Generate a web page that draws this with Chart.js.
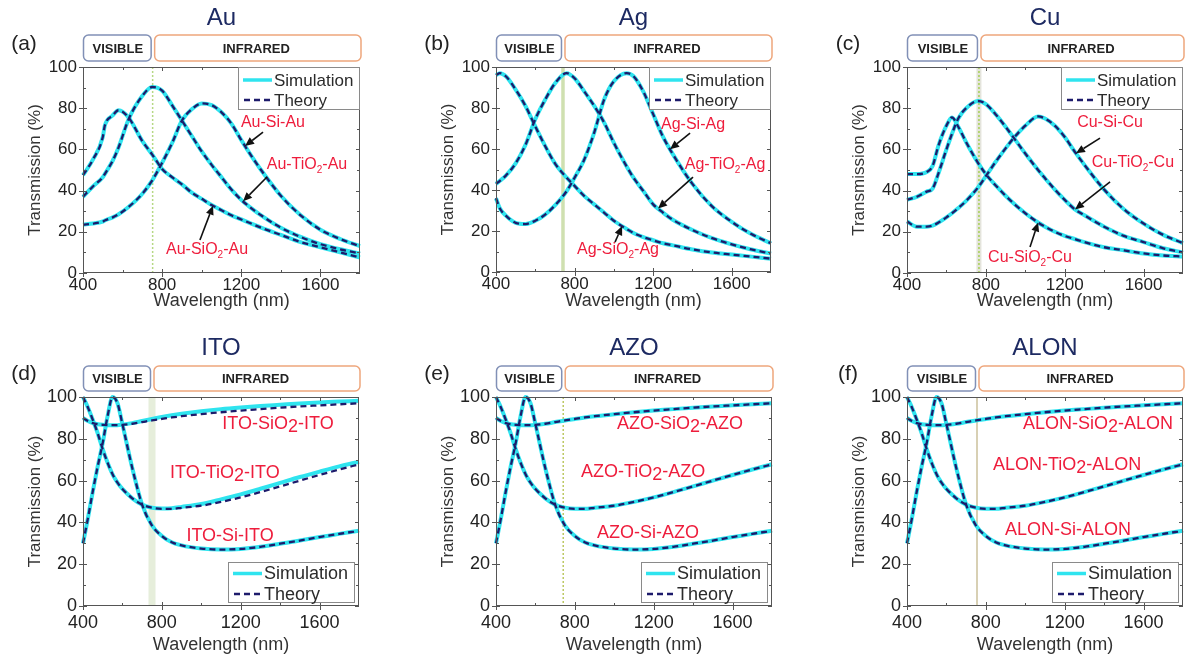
<!DOCTYPE html>
<html>
<head>
<meta charset="utf-8">
<script src="https://cdn.jsdelivr.net/npm/chart.js@4.4.1/dist/chart.umd.min.js"></script>
<style>
  body { margin: 0; background: #fff; }
  #fig { position: relative; width: 1191px; height: 659px; overflow: hidden; background: #fff; }
  #fig canvas { position: absolute; }
</style>
</head>
<body>
<div id="fig"></div>
<script>
// wavelength grids (nm)
const auWl = [400, 450, 500, 510, 550, 580, 630, 700, 750, 800, 850, 900, 950, 1000, 1050, 1100, 1150, 1200, 1250, 1300, 1400, 1500, 1600, 1700, 1800];
const agWl = [400, 420, 450, 500, 550, 600, 650, 700, 760, 800, 850, 900, 950, 1000, 1065, 1100, 1150, 1200, 1250, 1300, 1400, 1500, 1600, 1700, 1800];
const cuWl = [400, 450, 500, 530, 560, 600, 628, 660, 700, 760, 800, 850, 900, 950, 1000, 1065, 1100, 1150, 1200, 1250, 1300, 1400, 1500, 1600, 1700, 1800];
const tcoWl = [400, 425, 450, 475, 500, 525, 550, 575, 600, 650, 700, 750, 800, 850, 900, 1000, 1100, 1200, 1300, 1400, 1500, 1600, 1700, 1800];

// transmission (%) - metal electrodes
const auSiO2 = [47.5, 55, 66, 71.5, 76.5, 79, 75.5, 64, 57.5, 50.5, 46.5, 43, 39, 36, 33, 30.5, 28, 26, 24, 22, 18.5, 15, 12.5, 10, 7.5];
const auTiO2 = [37, 42, 46.5, 48, 54.5, 61, 74.5, 86, 90.3, 88.5, 81.5, 74, 66.5, 59, 52.5, 46.5, 40.5, 35.5, 31.5, 28, 22, 17.5, 14, 11.5, 9.5];
const auSi = [23.5, 24, 25, 25.5, 27, 28.5, 32, 38.5, 45, 53.5, 63, 74, 79.5, 82.3, 81.5, 78, 72.5, 64.5, 57, 50, 37.5, 28, 21, 16.5, 13];

const agSiO2 = [96, 97, 95.5, 89, 81, 71, 61.5, 53, 46, 42, 37, 33, 29, 25, 21, 19, 17, 15.5, 14, 13, 11, 9.5, 8.5, 7.5, 6.5];
const agTiO2 = [43, 44.5, 47, 53, 62, 74.5, 84, 92, 97, 94.5, 88, 81, 73, 63, 51.5, 46, 39.5, 33, 29, 25.5, 20.5, 16.5, 13.5, 11, 9];
const agSi = [36, 31, 27.5, 24, 23.4, 25, 28, 32.5, 39.5, 46, 55, 68, 84, 93, 97, 95.5, 88, 77, 66, 57.5, 43, 32, 24.5, 18.5, 14];

const cuSiO2 = [48, 48, 49, 52, 62, 71.5, 75.5, 71, 63.5, 53.5, 48, 42.5, 37.5, 33, 29, 24.5, 22.5, 20, 18, 16.5, 15, 12.5, 11, 9.5, 8.5, 8];
const cuTiO2 = [35.5, 37, 39.5, 41, 48.5, 60, 67.5, 75, 80, 83.5, 82, 77, 71, 64.5, 58, 50, 46, 40.5, 35.5, 31, 28, 22.5, 18, 15, 12, 10];
const cuSi = [25, 22.5, 22.5, 23, 24.5, 27, 29, 31.5, 35, 41.5, 47, 54, 60.5, 66.5, 71.5, 76, 75, 71.5, 66, 59, 52.5, 40.5, 31, 24, 18.5, 14.5];

// transmission (%) - transparent conducting oxide electrodes
const tcoSiO2 = [90, 88.5, 87.5, 87, 86.7, 86.5, 86.5, 86.5, 86.7, 87.2, 88, 88.8, 89.5, 90.2, 90.8, 91.8, 92.7, 93.5, 94.2, 94.9, 95.5, 96, 96.5, 97];
const tcoTiO2 = [100, 95, 89, 82.5, 75, 68.5, 63, 59, 56, 51.5, 48.5, 47, 46.5, 46.5, 47, 48, 49.8, 52, 54.5, 57.2, 60, 62.7, 65.3, 67.8];
const tcoSi = [30, 42, 55, 67, 78, 91, 100, 97, 87, 66, 48.5, 38.5, 33.5, 30.5, 29, 27.5, 27, 27.3, 28.3, 29.8, 31.3, 33, 34.5, 36];
// ITO simulation drifts a little above theory in the infrared
const itoSiO2Sim = [90, 88.5, 87.5, 87, 86.7, 86.5, 86.5, 86.5, 86.8, 87.5, 88.5, 89.5, 90.5, 91.3, 92, 93.2, 94.2, 95, 95.7, 96.3, 96.9, 97.4, 97.8, 98.2];
const itoTiO2Sim = [100, 95, 89, 82.5, 75, 68.5, 63, 59, 56, 51.5, 48.5, 47, 46.7, 46.8, 47.4, 48.8, 51, 53.4, 56.1, 58.9, 61.7, 64.3, 66.8, 69];

const xMajor = [400, 800, 1200, 1600];
const xMinor = [600, 1000, 1400];
const yMajor = [0, 20, 40, 60, 80, 100];
const yMinor = [10, 30, 50, 70, 90];

const CYAN = '#2fe4ef';
const NAVY = '#1d1b6b';
const RED = '#ee1d3c';
const FONT = '"Liberation Sans", Arial, sans-serif';

const rows = {
  top: { rowTop: 0, canvasH: 320, tickSize: 17, tickPad: 2, titlePad: 8, bandTop: 32, bandH: 26, labelSize: 16, subScale: 0.62, subDrop: 5, legendSize: 17 },
  bottom: { rowTop: 330, canvasH: 329, tickSize: 18, tickPad: 6, titlePad: 3, bandTop: 31, bandH: 25, labelSize: 18, subScale: 1, subDrop: 3, legendSize: 18 }
};

const dotted = (c) => [{ color: c, width: 1.5, dash: [2, 2] }];

const panels = [
  { id: 'a', row: 'top', title: 'Au', box: [83, 67, 360, 273], wl: auWl,
    sim: [auSiO2, auTiO2, auSi], theory: [auSiO2, auTiO2, auSi],
    edge: 752, edgeStrokes: dotted('#b6d884'),
    labels: [['Au-Si-Au', 1360, 72.8], ['Au-TiO_2-Au', 1532, 52.4], ['Au-SiO_2-Au', 1027, 11.2]],
    arrows: [[1310, 68.4, 2, 1219], [1330, 46.6, 1, 1209], [991, 16, 0, 1057]] },
  { id: 'b', row: 'top', title: 'Ag', box: [496, 67, 771, 272], wl: agWl,
    sim: [agSiO2, agTiO2, agSi], theory: [agSiO2, agTiO2, agSi],
    edge: 741, edgeStrokes: [{ color: '#cfe0b0', width: 3.5 }],
    labels: [['Ag-Si-Ag', 1403, 71.7], ['Ag-TiO_2-Ag', 1566, 52.2], ['Ag-SiO_2-Ag', 1021, 10.7]],
    arrows: [[1388, 67.8, 2, 1286], [1403, 46.3, 1, 1225], [1006, 14.6, 0, 1042]] },
  { id: 'c', row: 'top', title: 'Cu', box: [907, 67, 1183, 273], wl: cuWl,
    sim: [cuSiO2, cuTiO2, cuSi], theory: [cuSiO2, cuTiO2, cuSi],
    edge: 765, edgeStrokes: [{ color: '#e4e4dc', width: 5 }].concat(dotted('#a6cf55')),
    labels: [['Cu-Si-Cu', 1430, 72.8], ['Cu-TiO_2-Cu', 1546, 53.4], ['Cu-SiO_2-Cu', 1024, 7.3]],
    arrows: [[1379, 65.5, 2, 1257], [1430, 44.2, 1, 1252], [1024, 12.6, 0, 1065]] },
  { id: 'd', row: 'bottom', title: 'ITO', box: [83, 397, 359, 606], wl: tcoWl,
    sim: [itoSiO2Sim, itoTiO2Sim, tcoSi], theory: [tcoSiO2, tcoTiO2, tcoSi],
    edge: 750, edgeStrokes: [{ color: '#e6eedb', width: 7 }],
    labels: [['ITO-SiO_2-ITO', 1389, 87.1], ['ITO-TiO_2-ITO', 1120, 63.6], ['ITO-Si-ITO', 1146, 33.5]],
    arrows: [] },
  { id: 'e', row: 'bottom', title: 'AZO', box: [496, 397, 772, 606], wl: tcoWl,
    sim: [tcoSiO2, tcoTiO2, tcoSi], theory: [tcoSiO2, tcoTiO2, tcoSi],
    edge: 741, edgeStrokes: dotted('#bcc862'),
    labels: [['AZO-SiO_2-AZO', 1333, 87.1], ['AZO-TiO_2-AZO', 1146, 64.1], ['AZO-Si-AZO', 1171, 34.9]],
    arrows: [] },
  { id: 'f', row: 'bottom', title: 'ALON', box: [907, 397, 1183, 606], wl: tcoWl,
    sim: [tcoSiO2, tcoTiO2, tcoSi], theory: [tcoSiO2, tcoTiO2, tcoSi],
    edge: 755, edgeStrokes: [{ color: '#d8d0b4', width: 2 }],
    labels: [['ALON-SiO_2-ALON', 1369, 87.1], ['ALON-TiO_2-ALON', 1212, 67.5], ['ALON-Si-ALON', 1217, 36.4]],
    arrows: [] }
];
const panelById = {};
panels.forEach(p => { panelById['panel-' + p.id] = p; });

function interp(wl, vals, x) {
  for (let i = 1; i < wl.length; i++) {
    if (x <= wl[i]) {
      const t = (x - wl[i - 1]) / (wl[i] - wl[i - 1]);
      return vals[i - 1] + t * (vals[i] - vals[i - 1]);
    }
  }
  return vals[vals.length - 1];
}

function pts(wl, vals) {
  return wl.map((x, i) => ({ x: x, y: vals[i] }));
}

// text such as 'Au-TiO_2-Au': the digit after '_' is set lower (and smaller in the top row)
function drawChem(ctx, text, cx, cy, size, subScale, subDrop) {
  const parts = text.split(/_(\d)/);
  const big = size + 'px ' + FONT;
  const small = Math.round(size * subScale) + 'px ' + FONT;
  let w = 0;
  parts.forEach((s, i) => { ctx.font = i % 2 ? small : big; w += ctx.measureText(s).width; });
  let x = cx - w / 2;
  ctx.textAlign = 'left';
  ctx.textBaseline = 'middle';
  parts.forEach((s, i) => {
    ctx.font = i % 2 ? small : big;
    ctx.fillText(s, x, cy + (i % 2 ? subDrop : 0));
    x += ctx.measureText(s).width;
  });
}

function arrowTo(ctx, x0, y0, x1, y1) {
  const ang = Math.atan2(y1 - y0, x1 - x0);
  const L = 9, W = 4;
  const bx = x1 - L * Math.cos(ang), by = y1 - L * Math.sin(ang);
  ctx.beginPath(); ctx.moveTo(x0, y0); ctx.lineTo(bx, by); ctx.stroke();
  ctx.beginPath();
  ctx.moveTo(x1, y1);
  ctx.lineTo(bx + W * Math.sin(ang), by - W * Math.cos(ang));
  ctx.lineTo(bx - W * Math.sin(ang), by + W * Math.cos(ang));
  ctx.closePath(); ctx.fill();
}

function roundBox(ctx, x, y, w, h, r, stroke) {
  ctx.beginPath();
  ctx.roundRect(x, y, w, h, r);
  ctx.fillStyle = '#fff';
  ctx.fill();
  ctx.strokeStyle = stroke;
  ctx.lineWidth = 1.5;
  ctx.stroke();
}

const figurePlugin = {
  id: 'figure',
  beforeDatasetsDraw(chart) {
    const p = panelById[chart.canvas.id];
    const { ctx, chartArea: a, scales: { x } } = chart;
    const px = x.getPixelForValue(p.edge);
    ctx.save();
    p.edgeStrokes.forEach(s => {
      ctx.strokeStyle = s.color;
      ctx.lineWidth = s.width;
      ctx.setLineDash(s.dash || []);
      ctx.beginPath(); ctx.moveTo(px, a.top); ctx.lineTo(px, a.bottom); ctx.stroke();
    });
    ctx.restore();
  },
  afterDatasetsDraw(chart) {
    const p = panelById[chart.canvas.id];
    const r = rows[p.row];
    const { ctx, chartArea: a, scales: { x, y } } = chart;
    ctx.save();

    // frame and tick marks
    ctx.strokeStyle = '#555';
    ctx.lineWidth = 1;
    ctx.strokeRect(a.left + 0.5, a.top + 0.5, a.right - a.left - 1, a.bottom - a.top - 1);
    ctx.beginPath();
    xMajor.forEach(v => {
      const px = Math.round(x.getPixelForValue(v)) + 0.5;
      ctx.moveTo(px, a.bottom + 4); ctx.lineTo(px, a.bottom - 4);
      ctx.moveTo(px, a.top); ctx.lineTo(px, a.top + 4);
    });
    xMinor.forEach(v => {
      const px = Math.round(x.getPixelForValue(v)) + 0.5;
      ctx.moveTo(px, a.bottom); ctx.lineTo(px, a.bottom - 3);
      ctx.moveTo(px, a.top); ctx.lineTo(px, a.top + 3);
    });
    yMajor.forEach(v => {
      const py = Math.round(y.getPixelForValue(v)) + 0.5;
      ctx.moveTo(a.left - 4, py); ctx.lineTo(a.left + 4, py);
      ctx.moveTo(a.right, py); ctx.lineTo(a.right - 4, py);
    });
    yMinor.forEach(v => {
      const py = Math.round(y.getPixelForValue(v)) + 0.5;
      ctx.moveTo(a.left, py); ctx.lineTo(a.left + 3, py);
      ctx.moveTo(a.right, py); ctx.lineTo(a.right - 3, py);
    });
    ctx.stroke();

    // curve names
    ctx.fillStyle = RED;
    p.labels.forEach(l => {
      drawChem(ctx, l[0], x.getPixelForValue(l[1]), y.getPixelForValue(l[2]), r.labelSize, r.subScale, r.subDrop);
    });

    // arrows pointing at the curves
    ctx.strokeStyle = '#111';
    ctx.fillStyle = '#111';
    ctx.lineWidth = 1.6;
    p.arrows.forEach(ar => {
      const tipY = interp(p.wl, p.theory[ar[2]], ar[3]);
      arrowTo(ctx, x.getPixelForValue(ar[0]), y.getPixelForValue(ar[1]),
        x.getPixelForValue(ar[3]), y.getPixelForValue(tipY));
    });

    // legend box
    let lx, ly, lw, lh, row1, row2;
    if (p.row === 'top') {
      lw = 122; lh = 43; lx = a.right - lw; ly = a.top; row1 = 13; row2 = 33;
    } else {
      lw = 127; lh = 41; lx = a.right - 4 - lw; ly = a.bottom - 3 - lh; row1 = 11.5; row2 = 32;
    }
    ctx.fillStyle = '#fff';
    ctx.fillRect(lx, ly, lw, lh);
    ctx.strokeStyle = '#8a8a8a';
    ctx.lineWidth = 1;
    ctx.strokeRect(lx + 0.5, ly + 0.5, lw - 1, lh - 1);
    ctx.lineWidth = 3.5;
    ctx.strokeStyle = CYAN;
    ctx.beginPath(); ctx.moveTo(lx + 5, ly + row1); ctx.lineTo(lx + 34, ly + row1); ctx.stroke();
    ctx.lineWidth = 2.5;
    ctx.strokeStyle = NAVY;
    ctx.setLineDash([6, 4]);
    ctx.beginPath(); ctx.moveTo(lx + 6, ly + row2); ctx.lineTo(lx + 34, ly + row2); ctx.stroke();
    ctx.setLineDash([]);
    ctx.fillStyle = '#2b2b2b';
    ctx.font = r.legendSize + 'px ' + FONT;
    ctx.textAlign = 'left';
    ctx.textBaseline = 'middle';
    ctx.fillText('Simulation', lx + 36, ly + row1 + 1);
    ctx.fillText('Theory', lx + 36, ly + row2 + 1);
    ctx.restore();
  },
  afterDraw(chart) {
    const p = panelById[chart.canvas.id];
    const r = rows[p.row];
    const { ctx, chartArea: a, scales: { x } } = chart;
    ctx.save();
    ctx.textAlign = 'center';
    ctx.textBaseline = 'middle';

    ctx.fillStyle = '#1d2a62';
    ctx.font = '24px ' + FONT;
    ctx.fillText(p.title, (a.left + a.right) / 2, a.top - 49);

    ctx.fillStyle = '#222';
    ctx.font = '21px ' + FONT;
    ctx.fillText('(' + p.id + ')', a.left - 59, a.top - 23);

    // visible / infrared bands above the plot
    const bt = a.top - r.bandTop;
    const xe = x.getPixelForValue(p.edge);
    roundBox(ctx, a.left + 0.5, bt, xe - 2 - a.left, r.bandH, 5, '#8190b6');
    roundBox(ctx, xe + 2, bt, a.right + 1 - (xe + 2), r.bandH, 5, '#eea67c');
    ctx.fillStyle = '#222';
    ctx.font = 'bold 13px ' + FONT;
    ctx.fillText('VISIBLE', (a.left + xe) / 2, bt + r.bandH / 2 + 1);
    ctx.fillText('INFRARED', (xe + a.right) / 2, bt + r.bandH / 2 + 1);
    ctx.restore();
  }
};

const fig = document.getElementById('fig');

panels.forEach(p => {
  const r = rows[p.row];
  const left = p.box[0] - 83;
  const width = p.box[2] - left + 8;
  const canvas = document.createElement('canvas');
  canvas.id = 'panel-' + p.id;
  canvas.width = width;
  canvas.height = r.canvasH;
  canvas.style.left = left + 'px';
  canvas.style.top = r.rowTop + 'px';
  canvas.style.width = width + 'px';
  canvas.style.height = r.canvasH + 'px';
  fig.appendChild(canvas);

  const xHeight = r.canvasH - (p.box[3] - r.rowTop);
  const datasets = [];
  p.theory.forEach(vals => {
    datasets.push({ data: pts(p.wl, vals), borderColor: NAVY, borderWidth: 2.3, borderDash: [6, 4], order: 0 });
  });
  p.sim.forEach(vals => {
    datasets.push({ data: pts(p.wl, vals), borderColor: CYAN, borderWidth: 4, order: 1 });
  });
  datasets.forEach(d => {
    d.pointRadius = 0;
    d.fill = false;
    d.cubicInterpolationMode = 'monotone';
    d.clip = 6;
  });

  new Chart(canvas, {
    type: 'line',
    data: { datasets: datasets },
    options: {
      responsive: false,
      animation: false,
      devicePixelRatio: 1,
      layout: { padding: { left: 0, right: 8, top: p.box[1] - r.rowTop, bottom: 0 } },
      plugins: { legend: { display: false }, tooltip: { enabled: false } },
      scales: {
        x: {
          type: 'linear', min: 400, max: 1800,
          afterFit: (s) => { s.height = xHeight; },
          grid: { display: false, drawTicks: false },
          border: { display: false },
          ticks: { stepSize: 400, includeBounds: false, autoSkip: false, maxRotation: 0,
                   callback: (v) => String(v),
                   padding: r.tickPad, color: '#222', font: { family: FONT, size: r.tickSize } },
          title: { display: true, text: 'Wavelength (nm)', color: '#333',
                   font: { family: FONT, size: 18 }, padding: { top: 0, bottom: r.titlePad } }
        },
        y: {
          min: 0, max: 100,
          afterFit: (s) => { s.width = 83; },
          grid: { display: false, drawTicks: false },
          border: { display: false },
          ticks: { stepSize: 20, padding: 6, color: '#222', font: { family: FONT, size: r.tickSize } },
          title: { display: true, text: 'Transmission (%)', color: '#333',
                   font: { family: FONT, size: 17 }, padding: { top: 25, bottom: 0 } }
        }
      }
    },
    plugins: [figurePlugin]
  });
});
</script>
</body>
</html>
